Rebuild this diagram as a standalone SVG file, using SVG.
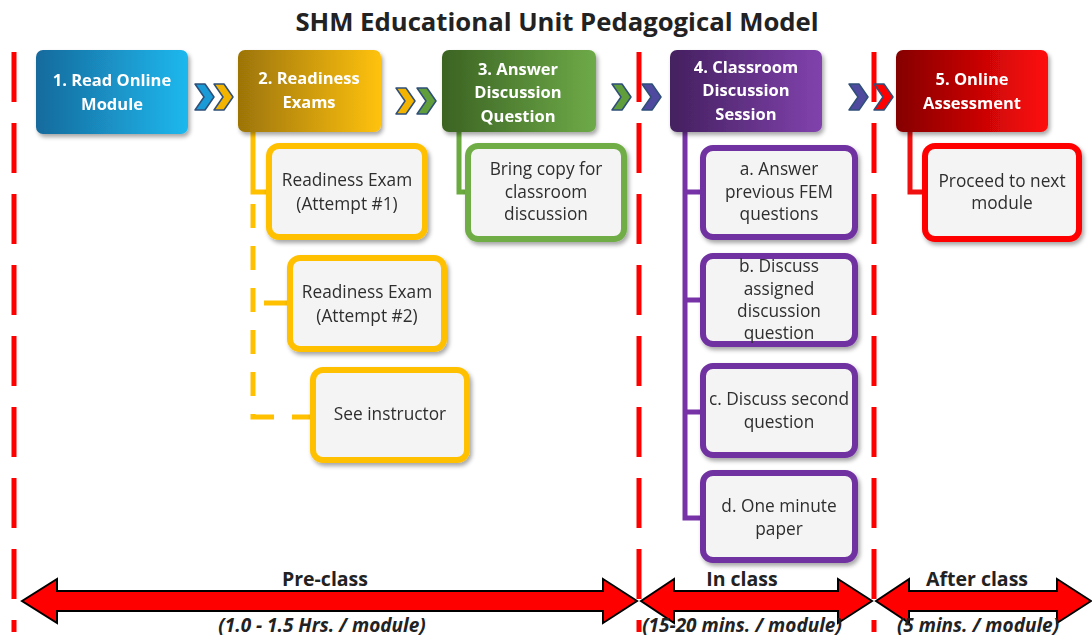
<svg xmlns="http://www.w3.org/2000/svg" width="1092" height="638" viewBox="0 0 1092 638">
<style>
.title{font-family:"Open Sans","Liberation Sans",sans-serif;font-weight:700;font-size:25.7px;fill:#222;text-anchor:middle}
.mt{font-family:"Open Sans","Liberation Sans",sans-serif;font-weight:700;font-size:16.5px;fill:#fff;text-anchor:middle}
.st{font-family:"Open Sans","Liberation Sans",sans-serif;font-size:17.3px;fill:#2e2e2e;text-anchor:middle}
.bl{font-family:"Open Sans","Liberation Sans",sans-serif;font-weight:700;font-size:19.5px;fill:#222;text-anchor:middle}
.il{font-family:"Open Sans","Liberation Sans",sans-serif;font-weight:700;font-style:italic;font-size:19px;fill:#222;text-anchor:middle}
.sub{fill:#f4f4f4;stroke-width:6}
.chev{stroke:#2f4f78;stroke-width:1.5;stroke-linejoin:round}
.div{stroke:#ff0000;stroke-width:5;stroke-dasharray:50 21;fill:none}
.conn{fill:none;stroke-width:5}
.arrow{fill:#ff0000;stroke:#000;stroke-width:2;stroke-linejoin:miter}
</style>
<defs>
<filter id="sh" x="-10%" y="-10%" width="130%" height="130%"><feDropShadow dx="2" dy="3" stdDeviation="2" flood-color="#000" flood-opacity="0.35"/></filter>
<linearGradient id="gBlue" x1="0" y1="0" x2="1" y2="0"><stop offset="0" stop-color="#176a9c"/><stop offset="1" stop-color="#1db8ee"/></linearGradient>
<linearGradient id="gGold" x1="0" y1="0" x2="1" y2="0"><stop offset="0" stop-color="#9c7406"/><stop offset="1" stop-color="#ffc20e"/></linearGradient>
<linearGradient id="gGreen" x1="0" y1="0" x2="1" y2="0"><stop offset="0" stop-color="#3b6323"/><stop offset="1" stop-color="#6eaa48"/></linearGradient>
<linearGradient id="gPurple" x1="0" y1="0" x2="1" y2="0"><stop offset="0" stop-color="#44205f"/><stop offset="1" stop-color="#8142ad"/></linearGradient>
<linearGradient id="gRed" x1="0" y1="0" x2="1" y2="0"><stop offset="0" stop-color="#850000"/><stop offset="1" stop-color="#ff0a0a"/></linearGradient>
<polygon id="chv" points="0,0 10,0 19,13 10,26 0,26 9,13"/>
</defs>
<rect width="1092" height="638" fill="#fff"/>
<text class="title" x="557" y="31">SHM Educational Unit Pedagogical Model</text>
<g id="dividers">
<line class="div" x1="14" y1="52" x2="14" y2="632"/>
<line class="div" x1="639" y1="52" x2="639" y2="632"/>
<line class="div" x1="874" y1="52" x2="874" y2="632"/>
</g>
<g id="connectors">
<path class="conn" stroke="#ffc000" d="M253,132 V192 H268"/>
<path class="conn" stroke="#ffc000" stroke-dasharray="24 18" d="M253,204 V417 H310"/>
<path class="conn" stroke="#ffc000" d="M264,303 H287"/>
<path class="conn" stroke="#6aaa3e" d="M459,132 V192 H466"/>
<path class="conn" stroke="#7632a6" d="M685,132 V518 H700 M685,192 H700 M685,300 H700 M685,412 H700"/>
<path class="conn" stroke="#f01010" d="M910,132 V192 H922"/>
<g id="chevrons">
<use href="#chv" x="195" y="84" fill="#1a9ad6" class="chev"/>
<use href="#chv" x="214" y="84" fill="#f2b400" class="chev"/>
<use href="#chv" x="396" y="88" fill="#f2b400" class="chev"/>
<use href="#chv" x="417" y="88" fill="#5f9e3a" class="chev"/>
<use href="#chv" x="612" y="84" fill="#5f9e3a" class="chev"/>
<use href="#chv" x="642" y="84" fill="#4f4aa0" class="chev"/>
<use href="#chv" x="849" y="84" fill="#4f4aa0" class="chev"/>
<use href="#chv" x="874" y="84" fill="#ff0000" class="chev"/>
</g>
</g>
<g id="n1" filter="url(#sh)"><rect x="36" y="50" width="152" height="84" rx="7" fill="url(#gBlue)"/><text class="mt" x="112" y="86">1. Read Online</text><text class="mt" x="112" y="110">Module</text></g>
<g id="n2" filter="url(#sh)"><rect x="238" y="50" width="143" height="82" rx="7" fill="url(#gGold)"/><text class="mt" x="309" y="84">2. Readiness</text><text class="mt" x="309" y="108">Exams</text></g>
<g id="n3" filter="url(#sh)"><rect x="442" y="50" width="154" height="82" rx="7" fill="url(#gGreen)"/><text class="mt" x="518" y="75">3. Answer</text><text class="mt" x="518" y="98">Discussion</text><text class="mt" x="518" y="122">Question</text></g>
<g id="n4" filter="url(#sh)"><rect x="670" y="50" width="152" height="82" rx="7" fill="url(#gPurple)"/><text class="mt" x="746" y="73">4. Classroom</text><text class="mt" x="746" y="96">Discussion</text><text class="mt" x="746" y="120">Session</text></g>
<g id="n5" filter="url(#sh)"><rect x="896" y="50" width="152" height="82" rx="7" fill="url(#gRed)"/><text class="mt" x="972" y="85">5. Online</text><text class="mt" x="972" y="109">Assessment</text></g>
<g id="n2a" filter="url(#sh)"><rect class="sub" stroke="#ffc000" x="269" y="146" width="156" height="91" rx="10"/><text class="st" x="347" y="186">Readiness Exam</text><text class="st" x="347" y="210">(Attempt #1)</text></g>
<g id="n2b" filter="url(#sh)"><rect class="sub" stroke="#ffc000" x="290" y="258" width="154" height="91" rx="10"/><text class="st" x="367" y="298">Readiness Exam</text><text class="st" x="367" y="322">(Attempt #2)</text></g>
<g id="n2c" filter="url(#sh)"><rect class="sub" stroke="#ffc000" x="313" y="370" width="154" height="90" rx="10"/><text class="st" x="390" y="420">See instructor</text></g>
<g id="n3a" filter="url(#sh)"><rect class="sub" stroke="#70ad47" x="468" y="146" width="156" height="93" rx="10"/><text class="st" x="546" y="175">Bring copy for</text><text class="st" x="546" y="198">classroom</text><text class="st" x="546" y="220">discussion</text></g>
<g id="n4a" filter="url(#sh)"><rect class="sub" stroke="#7030a0" x="703" y="148" width="152" height="89" rx="10"/><text class="st" x="779" y="175">a. Answer</text><text class="st" x="779" y="198">previous FEM</text><text class="st" x="779" y="220">questions</text></g>
<g id="n4b" filter="url(#sh)"><rect class="sub" stroke="#7030a0" x="703" y="256" width="152" height="88" rx="10"/><text class="st" x="779" y="272">b. Discuss</text><text class="st" x="779" y="295">assigned</text><text class="st" x="779" y="317">discussion</text><text class="st" x="779" y="339">question</text></g>
<g id="n4c" filter="url(#sh)"><rect class="sub" stroke="#7030a0" x="703" y="366" width="152" height="89" rx="10"/><text class="st" x="779" y="405">c. Discuss second</text><text class="st" x="779" y="428">question</text></g>
<g id="n4d" filter="url(#sh)"><rect class="sub" stroke="#7030a0" x="703" y="473" width="152" height="87" rx="10"/><text class="st" x="779" y="512">d. One minute</text><text class="st" x="779" y="535">paper</text></g>
<g id="n5a" filter="url(#sh)"><rect class="sub" stroke="#ff0000" x="925" y="146" width="154" height="93" rx="10"/><text class="st" x="1002" y="187">Proceed to next</text><text class="st" x="1002" y="209">module</text></g>
<g id="timeline">
<polygon class="arrow" points="22,601 57,579 57,591 603,591 603,579 637,601 603,623 603,611 57,611 57,623"/>
<polygon class="arrow" points="641,601 674,579 674,591 838,591 838,579 872,601 838,623 838,611 674,611 674,623"/>
<polygon class="arrow" points="876,601 909,579 909,591 1057,591 1057,579 1091,601 1057,623 1057,611 909,611 909,623"/>
<text class="bl" x="325" y="586">Pre-class</text>
<text class="bl" x="742" y="586">In class</text>
<text class="bl" x="977" y="586">After class</text>
<text class="il" x="322" y="632">(1.0 - 1.5 Hrs. / module)</text>
<text class="il" x="742" y="632">(15-20 mins. / module)</text>
<text class="il" x="978" y="632">(5 mins. / module)</text>
</g>
</svg>
